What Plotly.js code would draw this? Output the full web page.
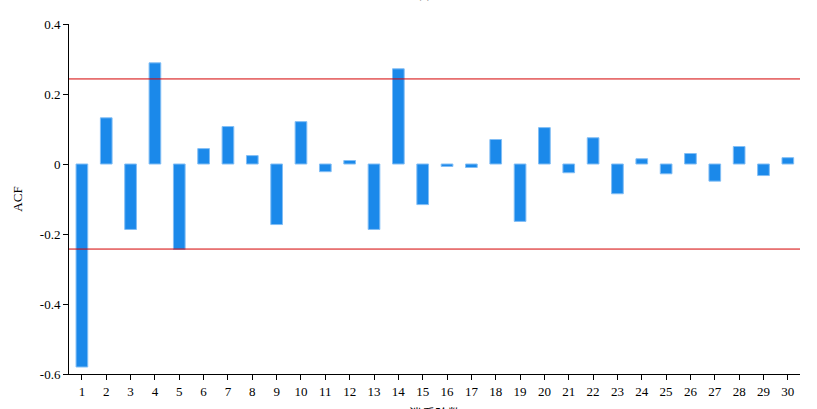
<!DOCTYPE html>
<html>
<head>
<meta charset="utf-8">
<script src="https://cdn.plot.ly/plotly-3.0.1.min.js"></script>
<style>html,body{margin:0;padding:0;background:#fff;}#chart{width:817px;height:409px;}</style>
</head>
<body>
<div id="chart"></div>
<script>
const lags = [1,2,3,4,5,6,7,8,9,10,11,12,13,14,15,16,17,18,19,20,21,22,23,24,25,26,27,28,29,30];
const acf = [-0.580,0.132,-0.187,0.289,-0.244,0.044,0.107,0.024,-0.173,0.121,
             -0.022,0.010,-0.187,0.272,-0.116,-0.007,-0.010,0.070,-0.164,0.104,
             -0.025,0.075,-0.085,0.015,-0.028,0.030,-0.049,0.050,-0.033,0.018];
const confBound = 0.243;
const yTickVals = [-0.6,-0.4,-0.2,0,0.2,0.4];
const yTickText = ['-0.6','-0.4','-0.2','0','0.2','0.4'];
const titleText = '(a)';
const xTitle = '滞后阶数';
const yTitle = 'ACF';

const font = {family: '"Liberation Serif", "Times New Roman", "Noto Sans CJK SC", serif', size: 13, color: '#000'};

Plotly.newPlot('chart', [{
  type: 'bar',
  x: lags,
  y: acf,
  width: 0.48,
  marker: {color: 'rgb(27,137,234)', line: {color: 'rgb(130,190,245)', width: 1}},
  hoverinfo: 'x+y'
}], {
  width: 817, height: 409,
  margin: {l: 69, r: 17, t: 24, b: 35},
  paper_bgcolor: '#fff', plot_bgcolor: '#fff',
  font: font,
  showlegend: false,
  annotations: [
    {text: titleText, font: font, xref: 'paper', x: 0.485, xanchor: 'center', yref: 'paper', y: 1, yanchor: 'bottom', yshift: 21, showarrow: false},
    {text: xTitle, font: font, xref: 'paper', x: 0.5, xanchor: 'center', yref: 'paper', y: 0, yanchor: 'top', yshift: -30, showarrow: false}
  ],
  xaxis: {
    range: [0.47, 30.5],
    tickmode: 'array', tickvals: lags, ticktext: lags.map(String),
    showgrid: false, zeroline: false,
    showline: true, linecolor: '#000', linewidth: 1,
    ticks: 'outside', ticklen: 5, tickcolor: '#000',
    tickfont: font
  },
  yaxis: {
    range: [-0.6, 0.4],
    tickmode: 'array', tickvals: yTickVals, ticktext: yTickText,
    showgrid: false, zeroline: false,
    showline: true, linecolor: '#000', linewidth: 1,
    ticks: 'outside', ticklen: 5, tickcolor: '#000',
    tickfont: font,
    title: {text: yTitle, font: font, standoff: 14}
  },
  shapes: [
    {type: 'line', xref: 'paper', x0: 0, x1: 1, yref: 'y', y0: confBound, y1: confBound, line: {color: '#d40000', width: 1}},
    {type: 'line', xref: 'paper', x0: 0, x1: 1, yref: 'y', y0: -confBound, y1: -confBound, line: {color: '#d40000', width: 1}}
  ]
}, {displayModeBar: false, staticPlot: true});
</script>
</body>
</html>
